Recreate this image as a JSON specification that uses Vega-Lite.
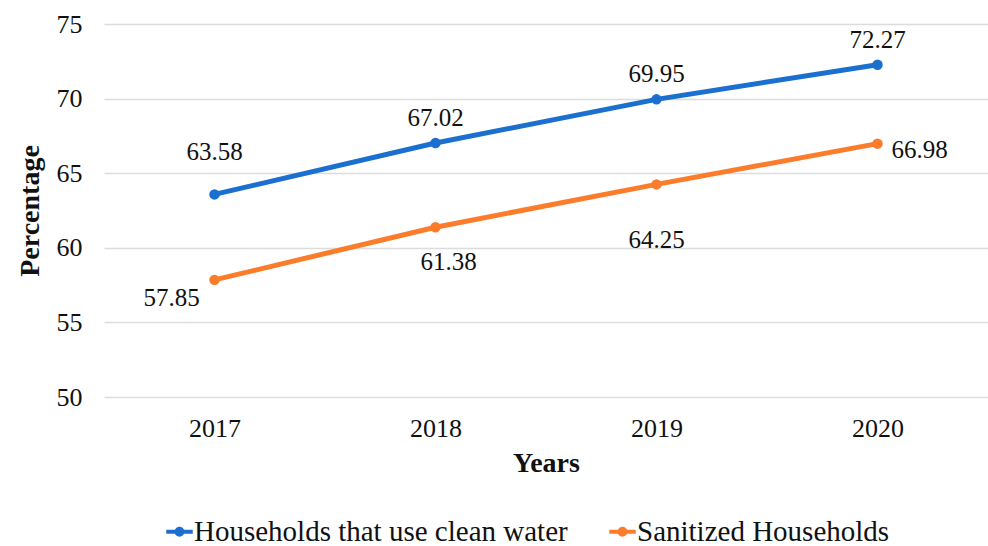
{
  "$schema": "https://vega.github.io/schema/vega-lite/v6.json",
  "width": 884,
  "height": 373,
  "autosize": "none",
  "padding": {"left": 104, "top": 24, "right": 0, "bottom": 149},
  "background": "white",
  "config": {
    "font": "Liberation Serif, serif",
    "view": {"stroke": null},
    "axis": {"labelFont": "Liberation Serif, serif", "titleFont": "Liberation Serif, serif"},
    "legend": {"labelFont": "Liberation Serif, serif", "titleFont": "Liberation Serif, serif"},
    "text": {"font": "Liberation Serif, serif", "fontSize": 25, "color": "#111111"}
  },
  "data": {
    "values": [
      {"year": "2017", "series": "Households that use clean water", "value": 63.58, "pos": "b0"},
      {"year": "2018", "series": "Households that use clean water", "value": 67.02, "pos": "b1"},
      {"year": "2019", "series": "Households that use clean water", "value": 69.95, "pos": "b1"},
      {"year": "2020", "series": "Households that use clean water", "value": 72.27, "pos": "b1"},
      {"year": "2017", "series": "Sanitized Households", "value": 57.85, "pos": "o0"},
      {"year": "2018", "series": "Sanitized Households", "value": 61.38, "pos": "o1"},
      {"year": "2019", "series": "Sanitized Households", "value": 64.25, "pos": "o2"},
      {"year": "2020", "series": "Sanitized Households", "value": 66.98, "pos": "o3"}
    ]
  },
  "encoding": {
    "x": {
      "field": "year", "type": "ordinal",
      "scale": {"type": "point", "padding": 0.5},
      "axis": {
        "title": "Years", "labelAngle": 0, "labelFontSize": 26, "labelColor": "#111",
        "labelPadding": 18, "ticks": false, "domain": false,
        "titleFontSize": 28, "titleFontWeight": "bold", "titleColor": "#111", "titlePadding": 8
      }
    },
    "y": {
      "field": "value", "type": "quantitative",
      "scale": {"domain": [50, 75], "nice": false, "zero": false},
      "axis": {
        "title": "Percentage", "values": [50, 55, 60, 65, 70, 75],
        "labelFontSize": 26, "labelColor": "#111", "labelPadding": 22,
        "ticks": false, "domain": false, "gridColor": "#dcdcdc", "gridWidth": 1.5,
        "titleFontSize": 28, "titleFontWeight": "bold", "titleColor": "#111", "titlePadding": 12
      }
    }
  },
  "layer": [
    {
      "mark": {"type": "line", "strokeWidth": 5, "point": {"size": 110, "filled": true}},
      "encoding": {
        "color": {
          "field": "series", "type": "nominal",
          "scale": {"domain": ["Households that use clean water", "Sanitized Households"], "range": ["#1b6fce", "#fb7d2c"]},
          "legend": {
            "title": null, "orient": "none", "direction": "horizontal",
            "legendX": 61, "legendY": 493,
            "labelFontSize": 29, "labelColor": "#111", "labelFont": "Liberation Serif, serif", "labelLimit": 0,
            "symbolType": "M-1,-0.15 L1,-0.15 L1,0.15 L-1,0.15 Z M0.37,0 A0.37,0.37 0 1,1 -0.37,0 A0.37,0.37 0 1,1 0.37,0 Z",
            "symbolSize": 700, "symbolStrokeWidth": 0, "symbolOffset": 0,
            "labelOffset": 0, "columnPadding": 40
          }
        }
      }
    },
    {
      "transform": [{"filter": "datum.pos == 'b0'"}],
      "mark": {"type": "text", "font": "Liberation Serif, serif", "dy": -42},
      "encoding": {"text": {"field": "value", "type": "quantitative", "format": ".2f"}}
    },
    {
      "transform": [{"filter": "datum.pos == 'b1'"}],
      "mark": {"type": "text", "font": "Liberation Serif, serif", "dy": -25},
      "encoding": {"text": {"field": "value", "type": "quantitative", "format": ".2f"}}
    },
    {
      "transform": [{"filter": "datum.pos == 'o0'"}],
      "mark": {"type": "text", "font": "Liberation Serif, serif", "dx": -43, "dy": 18},
      "encoding": {"text": {"field": "value", "type": "quantitative", "format": ".2f"}}
    },
    {
      "transform": [{"filter": "datum.pos == 'o1'"}],
      "mark": {"type": "text", "font": "Liberation Serif, serif", "dx": 13, "dy": 35},
      "encoding": {"text": {"field": "value", "type": "quantitative", "format": ".2f"}}
    },
    {
      "transform": [{"filter": "datum.pos == 'o2'"}],
      "mark": {"type": "text", "font": "Liberation Serif, serif", "dy": 56},
      "encoding": {"text": {"field": "value", "type": "quantitative", "format": ".2f"}}
    },
    {
      "transform": [{"filter": "datum.pos == 'o3'"}],
      "mark": {"type": "text", "font": "Liberation Serif, serif", "dx": 42, "dy": 6},
      "encoding": {"text": {"field": "value", "type": "quantitative", "format": ".2f"}}
    }
  ]
}
